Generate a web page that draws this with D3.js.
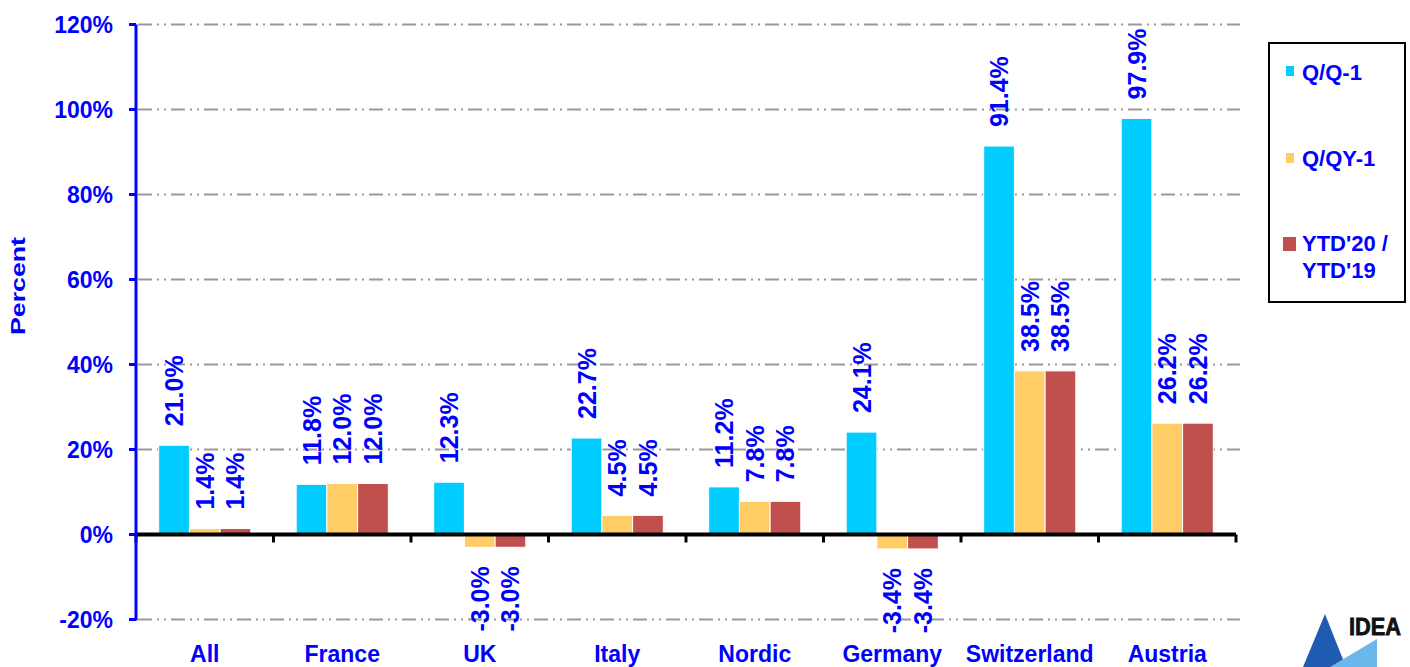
<!DOCTYPE html>
<html>
<head>
<meta charset="utf-8">
<script src="https://cdn.jsdelivr.net/npm/d3@7"></script>
<style>
  body { margin: 0; background: #fff; }
  text { font-family: "Liberation Sans", Arial, sans-serif; font-weight: bold; }
</style>
</head>
<body>
<div id="chart"></div>
<script>
// data
const categories = ["All", "France", "UK", "Italy", "Nordic", "Germany", "Switzerland", "Austria"];
const seriesNames = ["Q/Q-1", "Q/QY-1", "YTD'20 / YTD'19"];
const qq1 = [21.0, 11.8, 12.3, 22.7, 11.2, 24.1, 91.4, 97.9];
const qqy1 = [1.4, 12.0, -3.0, 4.5, 7.8, -3.4, 38.5, 26.2];
const ytd = [1.4, 12.0, -3.0, 4.5, 7.8, -3.4, 38.5, 26.2];
const yTicks = [-20, 0, 20, 40, 60, 80, 100, 120];

const colors = ["#00CCFF", "#FFCC66", "#C0504D"];
const blue = "#0000FF";

const svgWidth = 1410, svgHeight = 667;
const margin = { top: 24.5, right: 174, bottom: 47.5, left: 136 };

const svg = d3.select("#chart").append("svg")
  .attr("width", svgWidth)
  .attr("height", svgHeight);

const x = d3.scaleBand()
  .domain(categories)
  .range([margin.left, svgWidth - margin.right])
  .paddingInner(0.33)
  .paddingOuter(0.165);

const x1 = d3.scaleBand()
  .domain(seriesNames)
  .range([0, x.bandwidth()]);

const y = d3.scaleLinear()
  .domain([-20, 120])
  .range([svgHeight - margin.bottom, margin.top]);

const x0 = margin.left, xEnd = svgWidth - margin.right;
const fmt = v => d3.format(".1f")(v).replace("\u2212", "-") + "%";

// gridlines
svg.append("g")
  .selectAll("line")
  .data(yTicks.filter(d => d !== 0))
  .enter().append("line")
  .attr("x1", x0 + 2).attr("x2", xEnd + 4)
  .attr("y1", d => y(d)).attr("y2", d => y(d))
  .attr("stroke", "#999")
  .attr("stroke-width", 2)
  .attr("stroke-dasharray", "14,5,2,5,2,5");

// bars
const rows = categories.map((c, i) => ({ cat: c, vals: [qq1[i], qqy1[i], ytd[i]] }));

const groups = svg.append("g").selectAll("g")
  .data(rows)
  .enter().append("g")
  .attr("transform", d => "translate(" + x(d.cat) + ",0)");

groups.selectAll("rect")
  .data(d => d.vals.map((v, k) => ({ key: seriesNames[k], v: v, k: k })))
  .enter().append("rect")
  .attr("x", d => x1(d.key))
  .attr("width", x1.bandwidth())
  .attr("y", d => Math.min(y(d.v), y(0)))
  .attr("height", d => Math.abs(y(d.v) - y(0)))
  .attr("fill", d => colors[d.k])
  .attr("stroke", "#fff")
  .attr("stroke-width", 1);

// data labels
groups.selectAll("text")
  .data(d => d.vals.map((v, k) => ({ key: seriesNames[k], v: v, k: k })))
  .enter().append("text")
  .attr("transform", d => {
    const cx = x1(d.key) + x1.bandwidth() / 2;
    const cy = d.v >= 0 ? y(d.v) - 19 : y(d.v) + 19;
    return "translate(" + cx + "," + cy + ") rotate(-90)";
  })
  .attr("text-anchor", d => d.v >= 0 ? "start" : "end")
  .attr("dominant-baseline", "central")
  .attr("fill", blue)
  .attr("font-size", 25)
  .text(d => fmt(d.v));

// x axis (zero line)
svg.append("line")
  .attr("x1", x0).attr("x2", xEnd)
  .attr("y1", y(0)).attr("y2", y(0))
  .attr("stroke", "#000").attr("stroke-width", 4);

const boundaries = d3.range(categories.length + 1).map(i => x0 + i * x.step());
svg.append("g").selectAll("line")
  .data(boundaries)
  .enter().append("line")
  .attr("x1", d => d).attr("x2", d => d)
  .attr("y1", y(0)).attr("y2", y(0) + 8)
  .attr("stroke", "#000").attr("stroke-width", 3);

// y axis
svg.append("line")
  .attr("x1", x0).attr("x2", x0)
  .attr("y1", y(120)).attr("y2", y(-20) + 1)
  .attr("stroke", blue).attr("stroke-width", 3);

svg.append("g").selectAll("line")
  .data(yTicks)
  .enter().append("line")
  .attr("x1", x0 - 7).attr("x2", x0)
  .attr("y1", d => y(d)).attr("y2", d => y(d))
  .attr("stroke", blue).attr("stroke-width", 3);

svg.append("g").selectAll("text")
  .data(yTicks)
  .enter().append("text")
  .attr("x", 113)
  .attr("y", d => y(d) + 8)
  .attr("text-anchor", "end")
  .attr("fill", blue)
  .attr("font-size", 23)
  .text(d => d + "%");

// category labels
svg.append("g").selectAll("text")
  .data(categories)
  .enter().append("text")
  .attr("x", d => x(d) + x.bandwidth() / 2)
  .attr("y", 662)
  .attr("text-anchor", "middle")
  .attr("fill", blue)
  .attr("font-size", 23)
  .text(d => d);

// y title
svg.append("text")
  .attr("transform", "translate(25,286) rotate(-90)")
  .attr("text-anchor", "middle")
  .attr("fill", blue)
  .attr("font-size", 20)
  .attr("textLength", 98)
  .attr("lengthAdjust", "spacingAndGlyphs")
  .text("Percent");

// legend
const legend = svg.append("g");
legend.append("rect")
  .attr("x", 1269).attr("y", 43)
  .attr("width", 136).attr("height", 259)
  .attr("fill", "#fff").attr("stroke", "#000").attr("stroke-width", 2);

const legendItems = [
  { lines: ["Q/Q-1"], y: 80, sq: [1286, 66, 8, 10] },
  { lines: ["Q/QY-1"], y: 166, sq: [1286, 153, 8, 10] },
  { lines: ["YTD'20 /", "YTD'19"], y: 251, sq: [1283, 237, 13, 14] }
];
legendItems.forEach((it, i) => {
  legend.append("rect")
    .attr("x", it.sq[0]).attr("y", it.sq[1])
    .attr("width", it.sq[2]).attr("height", it.sq[3])
    .attr("fill", colors[i]);
  const t = legend.append("text")
    .attr("x", 1302).attr("y", it.y)
    .attr("fill", blue)
    .attr("font-size", 22);
  it.lines.forEach((l, j) => {
    t.append("tspan").attr("x", 1302).attr("dy", j === 0 ? 0 : 27).text(l);
  });
});

// logo
const logo = svg.append("g");
logo.append("polygon")
  .attr("points", "1325,614 1303,667 1346,667")
  .attr("fill", "#1F5BB0");
logo.append("polygon")
  .attr("points", "1377,639 1330,667 1377,667")
  .attr("fill", "#6BB6EA");
logo.append("text")
  .attr("x", 1349).attr("y", 635)
  .attr("fill", "#111")
  .attr("font-size", 24)
  .attr("stroke", "#111")
  .attr("stroke-width", 0.8)
  .attr("textLength", 52)
  .attr("lengthAdjust", "spacingAndGlyphs")
  .text("IDEA");
</script>
</body>
</html>
